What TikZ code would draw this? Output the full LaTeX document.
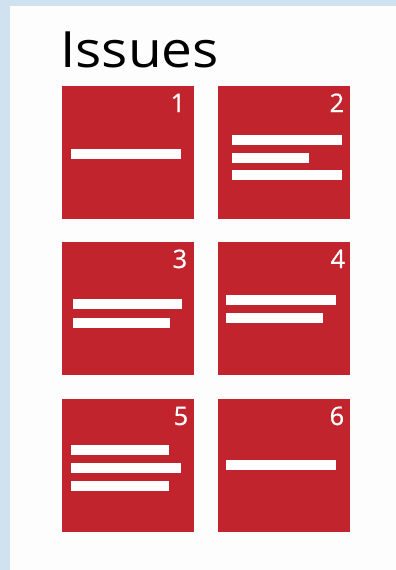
\documentclass[tikz,border=0pt]{standalone}
\usepackage{fontspec}
\setmainfont{Open Sans}
\newfontfamily\titlefont[FakeStretch=1.1]{Open Sans}
\newfontfamily\numfont[FakeBold=0.6]{Open Sans}
\definecolor{issuered}{RGB}{193,36,44}
\definecolor{bandblue}{RGB}{208,225,240}
\definecolor{pagebg}{RGB}{253,253,253}
\begin{document}
\begin{tikzpicture}[x=1pt,y=-1pt,
  card/.style={fill=issuered,draw=none,inner sep=0pt,minimum width=132pt,minimum height=133pt,anchor=north west},
  num/.style={text=white,inner sep=0pt,anchor=base east,font=\numfont\fontsize{25.5}{25.5}\selectfont},
  bar/.style={fill=white,draw=none}]
\useasboundingbox (0,0) rectangle (396,570);
\fill[pagebg] (0,0) rectangle (396,570);
\fill[bandblue] (0,0) rectangle (396,6);
\fill[bandblue] (0,0) rectangle (10,570);
\node[inner sep=0pt,anchor=base west,font=\titlefont\fontsize{50}{50}\selectfont] (title) at (60,67) {Issues};
% cards
\node[card] (b1) at (62,86) {};
\node[card] (b2) at (218,86) {};
\node[card] (b3) at (62,242) {};
\node[card] (b4) at (218,242) {};
\node[card] (b5) at (62,399) {};
\node[card] (b6) at (218,399) {};
% numbers
\node[num] (n1) at ([xshift=-9pt,yshift=-26pt]b1.north east) {1};
\node[num] (n2) at ([xshift=-6pt,yshift=-26pt]b2.north east) {2};
\node[num] (n3) at ([xshift=-7pt,yshift=-26pt]b3.north east) {3};
\node[num] (n4) at ([xshift=-5pt,yshift=-26pt]b4.north east) {4};
\node[num] (n5) at ([xshift=-6pt,yshift=-26pt]b5.north east) {5};
\node[num] (n6) at ([xshift=-6pt,yshift=-26pt]b6.north east) {6};
% bars
\fill[bar] (71,149) rectangle (181,159);
\fill[bar] (232,135) rectangle (342,145);
\fill[bar] (232,153) rectangle (309,163);
\fill[bar] (232,170) rectangle (342,180);
\fill[bar] (73,299) rectangle (182,309);
\fill[bar] (73,318) rectangle (170,328);
\fill[bar] (226,295) rectangle (336,305);
\fill[bar] (226,313) rectangle (323,323);
\fill[bar] (71,445) rectangle (169,455);
\fill[bar] (71,463) rectangle (181,473);
\fill[bar] (71,481) rectangle (169,491);
\fill[bar] (226,460) rectangle (336,470);
\end{tikzpicture}
\end{document}
